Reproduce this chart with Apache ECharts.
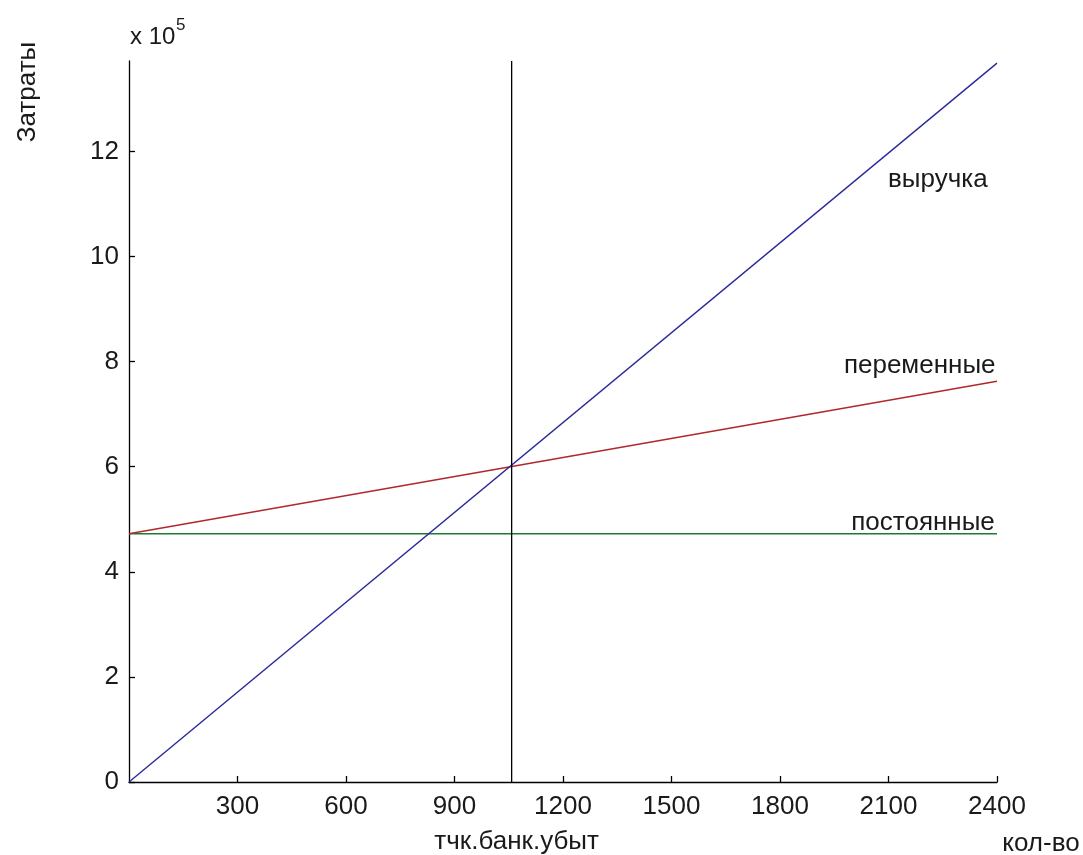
<!DOCTYPE html>
<html>
<head>
<meta charset="utf-8">
<script src="https://cdn.jsdelivr.net/npm/echarts@6/dist/echarts.min.js"></script>
<style>html,body{margin:0;padding:0;background:#fff}#c{width:1083px;height:855px}</style>
</head>
<body>
<div id="c"></div>
<script>
const qty = [0, 2400];
const revenue = [0, 1368000];
const variableCosts = [472500, 762500];
const fixedCosts = [472500, 472500];
const breakEvenQty = 1058;
const yMax = 1372000;
const xTicks = [300, 600, 900, 1200, 1500, 1800, 2100, 2400];
const yTicks = [0, 200000, 400000, 600000, 800000, 1000000, 1200000];
const lineLabelNames = ['выручка', 'переменные', 'постоянные'];
const lineLabelX = [2374, 2396, 2394];
const lineLabelY = [1145600, 791600, 492900];

const FONT = "'Liberation Sans', Arial, sans-serif";
const FS = 26;
const TXT = '#1a1a1a';

const chart = echarts.init(document.getElementById('c'), null, {renderer: 'canvas'});
const pairs = arr => qty.map((q, i) => [q, arr[i]]);

chart.setOption({
  animation: false,
  backgroundColor: '#fff',
  grid: {left: 129, right: 86, top: 61, bottom: 73, containLabel: false},
  xAxis: {
    type: 'value', min: 0, max: 2400,
    axisLine: {show: true, lineStyle: {color: '#000', width: 1.3}},
    axisTick: {show: true, inside: true, length: 6, customValues: xTicks, lineStyle: {color: '#000', width: 1.3}},
    axisLabel: {show: true, customValues: xTicks, margin: 12, fontFamily: FONT, fontSize: FS, color: TXT,
      formatter: v => String(v)},
    splitLine: {show: false}
  },
  yAxis: {
    type: 'value', min: 0, max: yMax,
    axisLine: {show: true, lineStyle: {color: '#000', width: 1.3}},
    axisTick: {show: true, inside: true, length: 6, customValues: yTicks, lineStyle: {color: '#000', width: 1.3}},
    axisLabel: {show: true, customValues: yTicks, margin: 10, fontFamily: FONT, fontSize: FS, color: TXT,
      formatter: v => String(Math.round(v / 1e5))},
    splitLine: {show: false}
  },
  series: [
    {type: 'line', name: 'постоянные', data: pairs(fixedCosts), symbol: 'none',
      lineStyle: {color: '#1e7a2e', width: 1.4}},
    {type: 'line', name: 'переменные', data: pairs(variableCosts), symbol: 'none',
      lineStyle: {color: '#b0282c', width: 1.4}},
    {type: 'line', name: 'выручка', data: pairs(revenue), symbol: 'none',
      lineStyle: {color: '#2b2b9a', width: 1.4}},
    {type: 'line', name: 'break-even', data: [[breakEvenQty, 0], [breakEvenQty, yMax]], symbol: 'none',
      lineStyle: {color: '#000', width: 1.3}}
  ]
});

const graphics = [
  {type: 'text', left: 130, top: 25, style: {text: 'x 10', fontFamily: FONT, fontSize: 24, fill: TXT}},
  {type: 'text', left: 176, top: 17, style: {text: '5', fontFamily: FONT, fontSize: 17, fill: TXT}},
  {type: 'text', x: 28, y: 92, rotation: Math.PI / 2,
    style: {text: 'Затраты', fontFamily: FONT, fontSize: FS, fill: TXT, align: 'center', verticalAlign: 'middle'}},
  {type: 'text', x: chart.convertToPixel({xAxisIndex: 0}, breakEvenQty) + 5, y: 842,
    style: {text: 'тчк.банк.убыт', fontFamily: FONT, fontSize: FS, fill: TXT, align: 'center', verticalAlign: 'middle'}},
  {type: 'text', x: 1041, y: 844,
    style: {text: 'кол-во', fontFamily: FONT, fontSize: FS, fill: TXT, align: 'center', verticalAlign: 'middle'}}
];
lineLabelNames.forEach((name, i) => {
  const p = chart.convertToPixel({gridIndex: 0}, [lineLabelX[i], lineLabelY[i]]);
  graphics.push({type: 'text', x: p[0], y: p[1],
    style: {text: name, fontFamily: FONT, fontSize: FS, fill: TXT, align: 'right', verticalAlign: 'middle'}});
});
chart.setOption({graphic: graphics});
</script>
</body>
</html>
